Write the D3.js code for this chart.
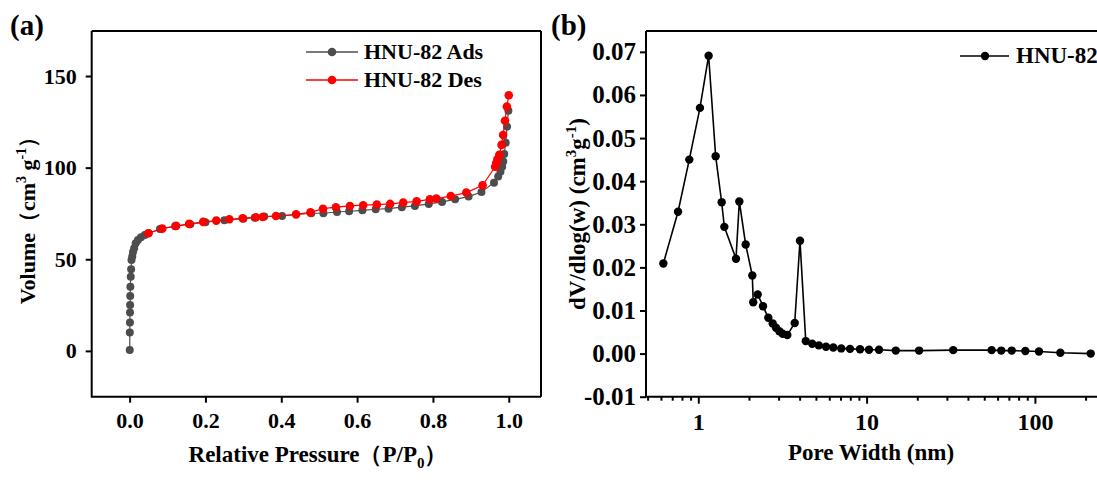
<!DOCTYPE html>
<html>
<head>
<meta charset="utf-8">
<script src="https://cdn.jsdelivr.net/npm/d3@7"></script>
<style>
  html, body { margin: 0; padding: 0; background: #fff; }
  svg { display: block; font-family: "Liberation Serif", "Times New Roman", serif; font-weight: bold; }
</style>
</head>
<body>
<svg id="chart" width="1097" height="480"></svg>
<script>
// ---- panel (a): N2 isotherm ----
const adsP = [0.0003, 0.0005, 0.0008, 0.001, 0.0013, 0.0016, 0.002, 0.003, 0.004, 0.005, 0.007, 0.009, 0.012, 0.016, 0.022, 0.03, 0.04, 0.05,
  0.08, 0.12, 0.16, 0.2, 0.25, 0.3, 0.33, 0.355, 0.402, 0.479, 0.511, 0.547, 0.579, 0.614, 0.649, 0.683, 0.718, 0.7525, 0.789, 0.824,
  0.8585, 0.894, 0.928, 0.961, 0.972, 0.978, 0.9826, 0.9855, 0.988, 0.992, 0.9955, 0.999];
const adsV = [0.5, 10, 15.5, 20.9, 25, 30, 35, 40.5, 44.5, 49.6, 51.5, 54, 56, 58.7, 60.5, 62, 63.3, 64.2,
  66.5, 68, 69.1, 70.2, 71.3, 72.1, 72.7, 73.3, 73.6, 75.1, 75.1, 75.8, 76.2, 76.7, 77.3, 77.6, 78.4, 79.1, 80.2, 81.3,
  82.7, 84.2, 86.7, 91.8, 95.1, 97.8, 100.5, 103.3, 107.5, 113.6, 122.4, 131.1];
const desP = [1.0, 0.995, 0.99, 0.985, 0.981, 0.975, 0.97, 0.967, 0.964, 0.931, 0.888, 0.847, 0.809, 0.792, 0.757, 0.7216, 0.687,
  0.652, 0.616, 0.581, 0.544, 0.51, 0.477, 0.439, 0.386, 0.351, 0.333, 0.298, 0.263, 0.2286, 0.194, 0.157, 0.1226, 0.086, 0.0496];
const desV = [139.5, 133.3, 125.6, 117.8, 112.4, 107, 104.5, 102.5, 100.5, 90.4, 86.4, 84.5, 83.1, 82.7, 81.6, 80.9, 80.2,
  79.8, 79.5, 79.1, 78.4, 77.6, 75.6, 74.5, 73.6, 73.1, 72.9, 72.4, 71.8, 71.1, 70.4, 69.3, 68.2, 66.7, 64.2];
const aTicksX = [0, 0.2, 0.4, 0.6, 0.8, 1.0];
const aTicksY = [0, 50, 100, 150];

// ---- panel (b): pore size distribution ----
const poreW = [0.62, 0.758, 0.884, 1.023, 1.152, 1.268, 1.377, 1.428, 1.675, 1.753, 1.912, 2.094, 2.12, 2.254, 2.424, 2.606,
  2.767, 2.895, 3.03, 3.17, 3.38, 3.74, 4.02, 4.35, 4.75, 5.2, 5.74, 6.34, 7.07, 7.97, 9.14, 10.33, 11.85, 14.9, 20.5,
  32.7, 55.3, 63.1, 72.8, 87.7, 105.7, 141.6, 214.5];
const poreV = [0.0209, 0.0329, 0.045, 0.057, 0.0691, 0.0458, 0.0351, 0.0294, 0.0220, 0.0353, 0.0253, 0.0181, 0.0119, 0.0137, 0.011, 0.0083,
  0.0070, 0.0060, 0.0052, 0.0046, 0.0043, 0.0071, 0.0262, 0.0029, 0.0023, 0.0019, 0.0016, 0.0014, 0.0012, 0.0011, 0.0010, 0.0009, 0.0009, 0.0007, 0.0007,
  0.0008, 0.0008, 0.0007, 0.0007, 0.0006, 0.0005, 0.0002, 0.0000];
const bTicksX = [1, 10, 100];
const bMinorX = [0.5, 0.6, 0.7, 0.8, 0.9, 2, 3, 4, 5, 6, 7, 8, 9, 20, 30, 40, 50, 60, 70, 80, 90, 200];
const bTicksY = [-0.01, 0, 0.01, 0.02, 0.03, 0.04, 0.05, 0.06, 0.07];

const svg = d3.select("#chart");

function styleAxis(g, fontSize) {
  g.select(".domain").remove();
  g.selectAll(".tick line").attr("stroke", "#000").attr("stroke-width", 2);
  g.selectAll(".tick text").attr("fill", "#000").attr("font-size", fontSize)
    .attr("font-family", "Liberation Serif").attr("font-weight", "bold");
}

function frame(x0, x1, y0, y1) {
  svg.append("path")
    .attr("d", `M${x0},${y0}H${x1}M${x0},${y0}V${y1}H${x1}M${x1},${y0}V${y1}`)
    .attr("fill", "none").attr("stroke", "#000").attr("stroke-width", 2);
}

// ===== panel (a) =====
const xa = d3.scaleLinear().domain([-0.1, 1.085]).range([91.7, 541]);
const ya = d3.scaleLinear().domain([-25, 175]).range([396.7, 30.2]);

svg.append("g").attr("transform", "translate(0,396.7)")
  .call(d3.axisBottom(xa).tickValues(aTicksX).tickSize(6).tickPadding(10).tickFormat(d3.format(".1f")))
  .call(g => styleAxis(g, 22));
svg.append("g").attr("transform", "translate(91.7,0)")
  .call(d3.axisLeft(ya).tickValues(aTicksY).tickSize(6).tickPadding(9))
  .call(g => styleAxis(g, 22));

const lineA = d3.line().x(d => xa(d[0])).y(d => ya(d[1]));
const ads = adsP.map((p, i) => [p, adsV[i]]);
const des = desP.map((p, i) => [p, desV[i]]);

svg.append("path").datum(ads).attr("d", lineA).attr("fill", "none").attr("stroke", "#4d4d4d").attr("stroke-width", 1.2);
svg.append("g").selectAll("circle").data(ads).join("circle")
  .attr("cx", d => xa(d[0])).attr("cy", d => ya(d[1])).attr("r", 4).attr("fill", "#4d4d4d");
svg.append("path").datum(des).attr("d", lineA).attr("fill", "none").attr("stroke", "#ff0000").attr("stroke-width", 1.2);
svg.append("g").selectAll("circle").data(des).join("circle")
  .attr("cx", d => xa(d[0])).attr("cy", d => ya(d[1])).attr("r", 4.3).attr("fill", "#ff0000");

frame(91.7, 541, 31, 396.7);

// legend (a)
[["HNU-82 Ads", "#4d4d4d", 52], ["HNU-82 Des", "#ff0000", 80]].forEach(([label, color, y]) => {
  svg.append("line").attr("x1", 306).attr("x2", 358).attr("y1", y).attr("y2", y).attr("stroke", color).attr("stroke-width", 1.5);
  svg.append("circle").attr("cx", 332).attr("cy", y).attr("r", 4.3).attr("fill", color);
  svg.append("text").attr("x", 364).attr("y", y + 7).attr("font-size", 22).text(label);
});

// titles (a)
svg.append("text").attr("x", 10).attr("y", 35).attr("font-size", 29).text("(a)");
const xtA = svg.append("text").attr("x", 318).attr("y", 462).attr("text-anchor", "middle").attr("font-size", 23);
xtA.append("tspan").text("Relative Pressure（P/P");
xtA.append("tspan").attr("font-size", 15).attr("dy", 6).text("0");
xtA.append("tspan").attr("dy", -6).text("）");
const ytA = svg.append("text").attr("transform", "translate(35,215) rotate(-90)").attr("text-anchor", "middle").attr("font-size", 22);
ytA.append("tspan").text("Volume（cm");
ytA.append("tspan").attr("font-size", 14).attr("dy", -9).text("3");
ytA.append("tspan").attr("dy", 9).text(" g");
ytA.append("tspan").attr("font-size", 14).attr("dy", -9).text("-1");
ytA.append("tspan").attr("dy", 9).text("）");

// ===== panel (b) =====
const xb = d3.scaleLog().domain([0.489, 250]).range([646, 1101.9]);
const yb = d3.scaleLinear().domain([-0.01, 0.075]).range([396.7, 30.3]);

svg.append("g").attr("transform", "translate(0,396.7)")
  .call(d3.axisBottom(xb).tickValues(bTicksX).tickSize(7).tickPadding(9).tickFormat(d3.format("d")))
  .call(g => styleAxis(g, 24));
svg.append("g").attr("transform", "translate(0,396.7)")
  .call(d3.axisBottom(xb).tickValues(bMinorX).tickSize(4).tickFormat(""))
  .call(g => styleAxis(g, 24));
svg.append("g").attr("transform", "translate(646,0)")
  .call(d3.axisLeft(yb).tickValues(bTicksY).tickSize(6).tickPadding(4)
    .tickFormat(d => d3.format(".2f")(d).replace("−", "-")))
  .call(g => styleAxis(g, 25));

const pore = poreW.map((w, i) => [w, poreV[i]]);
svg.append("path").datum(pore)
  .attr("d", d3.line().x(d => xb(d[0])).y(d => yb(d[1])))
  .attr("fill", "none").attr("stroke", "#000").attr("stroke-width", 1.6);
svg.append("g").selectAll("circle").data(pore).join("circle")
  .attr("cx", d => xb(d[0])).attr("cy", d => yb(d[1])).attr("r", 4.2).attr("fill", "#000");

frame(646, 1110, 31, 396.7);

// legend (b)
svg.append("line").attr("x1", 960).attr("x2", 1009).attr("y1", 56).attr("y2", 56).attr("stroke", "#000").attr("stroke-width", 1.6);
svg.append("circle").attr("cx", 985).attr("cy", 56).attr("r", 4.2).attr("fill", "#000");
svg.append("text").attr("x", 1016).attr("y", 63).attr("font-size", 23).text("HNU-82");

// titles (b)
svg.append("text").attr("x", 551).attr("y", 35).attr("font-size", 29).text("(b)");
svg.append("text").attr("x", 871).attr("y", 460).attr("text-anchor", "middle").attr("font-size", 23).text("Pore Width (nm)");
const ytB = svg.append("text").attr("transform", "translate(585,214) rotate(-90)").attr("text-anchor", "middle").attr("font-size", 23);
ytB.append("tspan").text("dV/dlog(w) (cm");
ytB.append("tspan").attr("font-size", 15).attr("dy", -9).text("3");
ytB.append("tspan").attr("dy", 9).text("g");
ytB.append("tspan").attr("font-size", 15).attr("dy", -9).text("-1");
ytB.append("tspan").attr("dy", 9).text(")");
</script>
</body>
</html>
